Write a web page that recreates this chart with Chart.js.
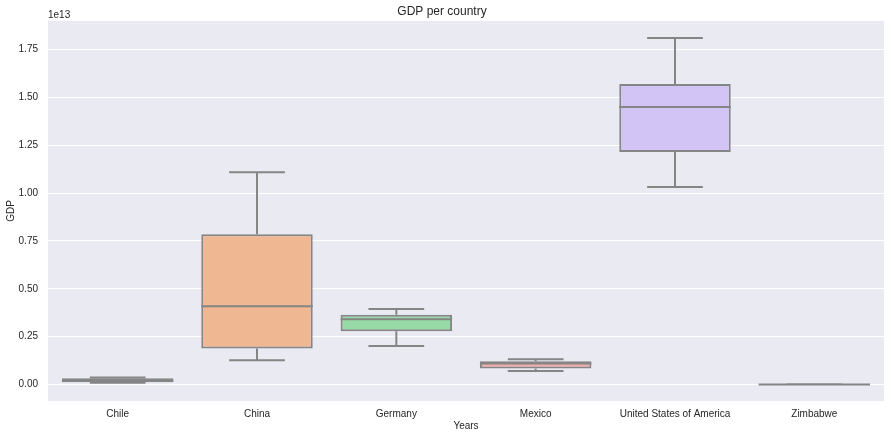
<!DOCTYPE html>
<html>
<head>
<meta charset="utf-8">
<script src="https://cdn.jsdelivr.net/npm/chart.js@4"></script>
<style>
  html, body { margin: 0; padding: 0; background: #fff; }
  #wrap { width: 891px; height: 437px; }
</style>
</head>
<body>
<div id="wrap"><canvas id="gdpBox"></canvas></div>
<script>
// box statistics, in US$ (axis unit 1e13)
const countries = ['Chile', 'China', 'Germany', 'Mexico', 'United States of America', 'Zimbabwe']
const lowerWhisker = [0.009e13, 0.127e13, 0.202e13, 0.071e13, 1.031e13, 0.0004e13]
const q1 = [0.012e13, 0.188e13, 0.278e13, 0.084e13, 1.214e13, 0.0005e13]
const median = [0.020e13, 0.409e13, 0.341e13, 0.110e13, 1.449e13, 0.0008e13]
const q3 = [0.033e13, 0.785e13, 0.364e13, 0.122e13, 1.569e13, 0.0014e13]
const upperWhisker = [0.037e13, 1.109e13, 0.395e13, 0.132e13, 1.809e13, 0.0017e13]
const yTicks = [0, 0.25e13, 0.5e13, 0.75e13, 1e13, 1.25e13, 1.5e13, 1.75e13]

const fills = ['#abc9ea', '#efb792', '#98daa7', '#f2aba8', '#d3c4f6', '#d6bba3']
const lineGray = '#858585'
const font = '"Liberation Sans", Arial, sans-serif'

// plot background
const plotBg = {
  id: 'plotBg',
  beforeDraw(chart) {
    const { ctx, chartArea: a } = chart
    ctx.save()
    ctx.fillStyle = '#eaeaf2'
    ctx.fillRect(a.left, a.top, a.right - a.left, a.bottom - a.top)
    ctx.restore()
  },
}

// whiskers, caps and medians on top of the floating bars
const boxParts = {
  id: 'boxParts',
  afterDatasetsDraw(chart) {
    const { ctx } = chart
    const y = chart.scales.y
    const bars = chart.getDatasetMeta(0).data
    ctx.save()
    ctx.strokeStyle = lineGray
    ctx.lineWidth = 2
    bars.forEach((bar, i) => {
      const half = bar.width / 2
      const cap = bar.width / 4
      const yq1 = y.getPixelForValue(q1[i])
      const yq3 = y.getPixelForValue(q3[i])
      const ylo = y.getPixelForValue(lowerWhisker[i])
      const yhi = y.getPixelForValue(upperWhisker[i])
      const ymed = y.getPixelForValue(median[i])
      ctx.beginPath()
      ctx.moveTo(bar.x, yq3); ctx.lineTo(bar.x, yhi)
      ctx.moveTo(bar.x, yq1); ctx.lineTo(bar.x, ylo)
      ctx.moveTo(bar.x - cap, yhi); ctx.lineTo(bar.x + cap, yhi)
      ctx.moveTo(bar.x - cap, ylo); ctx.lineTo(bar.x + cap, ylo)
      ctx.moveTo(bar.x - half, ymed); ctx.lineTo(bar.x + half, ymed)
      ctx.stroke()
    })
    // offset text of the y axis
    ctx.fillStyle = '#262626'
    ctx.font = '10px ' + font
    ctx.textBaseline = 'middle'
    ctx.fillText('1e13', chart.chartArea.left, chart.chartArea.top - 6)
    ctx.restore()
  },
}

new Chart(document.getElementById('gdpBox'), {
  type: 'bar',
  data: {
    labels: countries,
    datasets: [
      {
        data: countries.map((c, i) => [q1[i], q3[i]]),
        backgroundColor: fills,
        borderColor: lineGray,
        borderWidth: 2,
        borderSkipped: false,
        barPercentage: 0.8,
        categoryPercentage: 1,
      },
    ],
  },
  options: {
    responsive: true,
    maintainAspectRatio: false,
    animation: false,
    layout: { padding: { left: 0, right: 7, top: 0, bottom: 0 } },
    plugins: {
      legend: { display: false },
      tooltip: { enabled: false },
      title: {
        display: true,
        text: 'GDP per country',
        color: '#262626',
        font: { family: font, size: 12, weight: 'normal' },
        padding: { top: 4, bottom: 2.6 },
      },
    },
    scales: {
      x: {
        grid: { display: false, drawTicks: false },
        border: { display: false },
        ticks: { color: '#262626', font: { family: font, size: 10 }, padding: 7 },
        title: {
          display: true,
          text: 'Years',
          color: '#262626',
          font: { family: font, size: 10 },
          padding: { top: 1, bottom: 5 },
        },
        afterFit(scale) { scale.height = 36 },
      },
      y: {
        min: -0.0857e13,
        max: 1.898e13,
        afterBuildTicks(scale) { scale.ticks = yTicks.map(v => ({ value: v })) },
        grid: { color: '#ffffff', lineWidth: 1, drawTicks: false },
        border: { display: false },
        ticks: {
          color: '#262626',
          font: { family: font, size: 10 },
          padding: 10,
          callback: v => (v / 1e13).toFixed(2),
        },
        title: {
          display: true,
          text: 'GDP',
          color: '#262626',
          font: { family: font, size: 10 },
          padding: { top: 5, bottom: 0 },
        },
        afterFit(scale) { scale.width = 48 },
      },
    },
  },
  plugins: [plotBg, boxParts],
})
</script>
</body>
</html>
